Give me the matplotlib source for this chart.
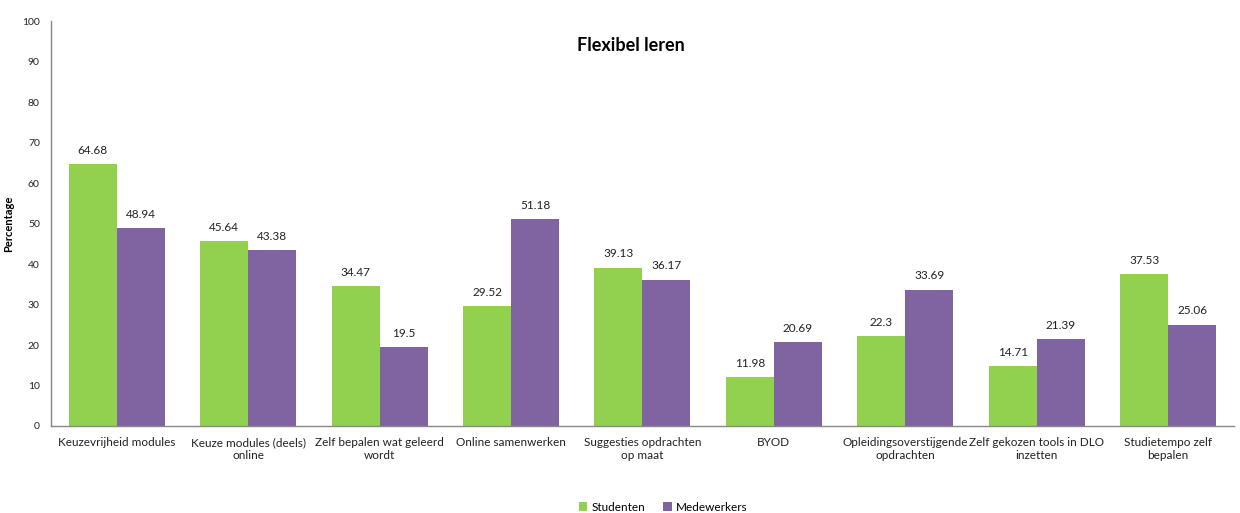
import matplotlib as mpl
mpl.use('Agg')
import matplotlib.pyplot as plt
import numpy as np

categories = ['Keuzevrijheid modules', 'Keuze modules (deels)\nonline',
              'Zelf bepalen wat geleerd\nwordt', 'Online samenwerken',
              'Suggesties opdrachten\nop maat', 'BYOD',
              'Opleidingsoverstijgende\nopdrachten', 'Zelf gekozen tools in DLO\ninzetten',
              'Studietempo zelf\nbepalen']
studenten = [64.68, 45.64, 34.47, 29.52, 39.13, 11.98, 22.3, 14.71, 37.53]
medewerkers = [48.94, 43.38, 19.5, 51.18, 36.17, 20.69, 33.69, 21.39, 25.06]

plt.rcParams['font.family'] = ['Lato', 'DejaVu Sans']

green = '#92D050'
purple = '#8064A2'

fig = plt.figure(figsize=(12.4, 5.13), dpi=100)
ax = fig.add_axes([0.0411, 0.1696, 0.954, 0.7894])

x = np.arange(len(categories))
w = 0.365
b1 = ax.bar(x - w/2, studenten, w, color=green, label='Studenten')
b2 = ax.bar(x + w/2, medewerkers, w, color=purple, label='Medewerkers')

for bars, vals in ((b1, studenten), (b2, medewerkers)):
    for r, v in zip(bars, vals):
        ax.text(r.get_x() + r.get_width()/2, v + 2.0, '%g' % v,
                ha='center', va='bottom', fontsize=8.5, color='#222222')

ax.set_xlim(-0.5, len(categories) - 0.5)
ax.set_ylim(0, 100)
ax.set_yticks(np.arange(0, 101, 10))
ax.set_xticks(x)
ax.set_xticklabels(categories, fontsize=8.5, color='#222222')
ax.tick_params(axis='y', labelsize=7.5, colors='#222222', length=0, pad=8)
ax.tick_params(axis='x', length=0, pad=8)

for s in ('top', 'right'):
    ax.spines[s].set_visible(False)
for s in ('left', 'bottom'):
    ax.spines[s].set_color('#888888')
    ax.spines[s].set_linewidth(1)

ax.set_ylabel('Percentage', fontsize=8, fontweight='bold')
ax.yaxis.set_label_coords(-0.031, 0.5)
ax.text(0.49, 0.96, 'Flexibel leren', transform=ax.transAxes, ha='center',
        va='top', fontsize=13, fontweight='bold')

fig.legend(loc='lower center', bbox_to_anchor=(0.535, -0.02), ncol=2,
           frameon=False, fontsize=8.5, handlelength=0.7, handleheight=0.7,
           columnspacing=1.5, handletextpad=0.4)

fig.savefig('out.png', dpi=100)
